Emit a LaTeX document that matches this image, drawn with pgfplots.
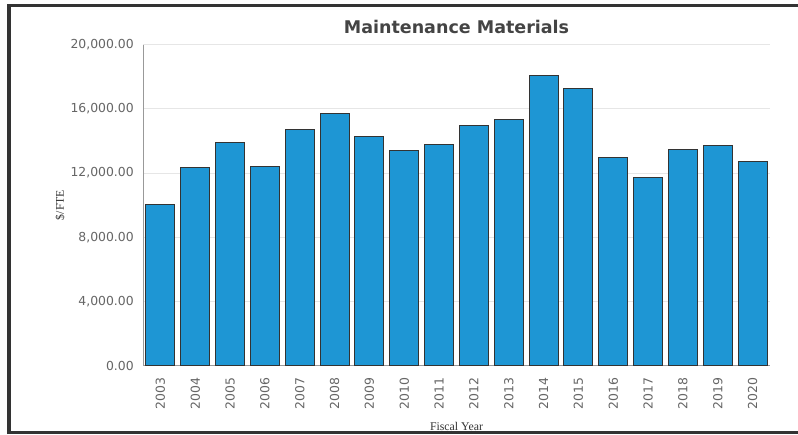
\documentclass[border=0pt]{standalone}
\usepackage{pgfplots}
\pgfplotsset{compat=1.18}
\usepackage{fontspec}
\setmainfont{DejaVu Sans}
\newfontfamily\serifface{Liberation Serif}
\definecolor{barblue}{HTML}{1E96D4}
\definecolor{baredge}{HTML}{333333}
\definecolor{framegray}{HTML}{333333}
\definecolor{ticktext}{HTML}{666666}
\definecolor{titletext}{HTML}{444444}
\definecolor{gridgray}{HTML}{E6E6E6}
\definecolor{axisgray}{HTML}{999999}

\begin{document}
\begin{tikzpicture}
\fill[white] (0pt,0pt) rectangle (798pt,434pt);
\begin{axis}[
  at={(143pt,68.3pt)}, anchor=south west,
  scale only axis, width=627pt, height=321pt,
  ybar, bar width=29pt,
  xmin=-0.5, xmax=17.5,
  ymin=0, ymax=20000,
  ytick={0,4000,8000,12000,16000,20000},
  xtick=data,
  xticklabels={2003,2004,2005,2006,2007,2008,2009,2010,2011,2012,2013,2014,2015,2016,2017,2018,2019,2020},
  axis x line=bottom, axis y line=left,
  axis line style={draw=axisgray, line width=0.8pt, -},
  tick style={draw=none},
  ymajorgrids, grid style={draw=gridgray, line width=0.8pt},
  /pgf/number format/assume math mode=true,
  scaled y ticks=false,
  yticklabel={\pgfmathprintnumber[fixed, fixed zerofill, precision=2, 1000 sep={,}]{\tick}},
  yticklabel style={font=\fontsize{12.4}{13}\selectfont, text=ticktext, inner sep=0pt},
  yticklabel shift=7pt,
  xticklabel style={font=\fontsize{12.4}{13}\selectfont, text=ticktext, rotate=90, anchor=east, inner sep=0pt},
  xticklabel shift=10pt,
  clip=false,
]
\addplot[fill=barblue, draw=baredge, line width=1pt] coordinates {
  (0,10070) (1,12360) (2,13890) (3,12420) (4,14690) (5,15730)
  (6,14310) (7,13400) (8,13790) (9,14950) (10,15330) (11,18050)
  (12,17280) (13,13000) (14,11740) (15,13500) (16,13750) (17,12750)
};
\end{axis}
\node[font=\bfseries\fontsize{17.5}{20}\selectfont, text=titletext] at (456.5pt,407pt) {Maintenance Materials};
\node[font=\serifface\fontsize{11.8}{13}\selectfont, text=black!80, rotate=90] at (60pt,229pt) {\$/FTE};
\node[font=\serifface\fontsize{11.8}{13}\selectfont, text=black!80] at (456.5pt,8pt) {Fiscal Year};
\draw[framegray, line width=4pt] (9.3pt,0pt) -- (9.3pt,430.3pt);
\draw[framegray, line width=3.5pt] (7.3pt,428.5pt) -- (798pt,428.5pt);
\draw[framegray, line width=3pt] (7.3pt,1.2pt) -- (798pt,1.2pt);
\pgfresetboundingbox
\useasboundingbox (0pt,0pt) rectangle (798pt,434pt);
\end{tikzpicture}
\end{document}
